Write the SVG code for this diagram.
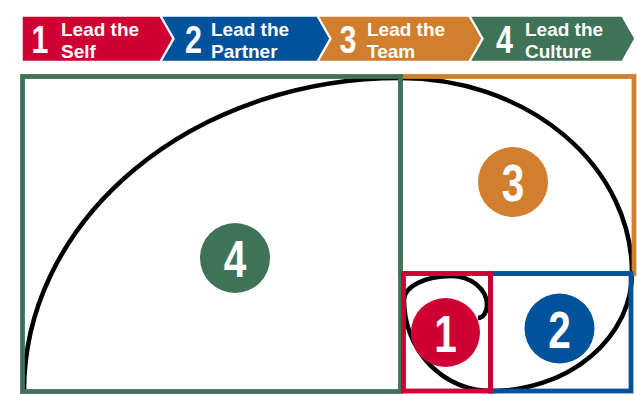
<svg xmlns="http://www.w3.org/2000/svg" width="637" height="394" viewBox="0 0 637 394">
<style>
.red{fill:#CE0033}.blue{fill:#00529B}.orange{fill:#D17F2E}.green{fill:#3F7358}
.chev{stroke:#fff;stroke-width:1.5}
.lbl{font-family:"Liberation Sans",Arial,sans-serif;font-weight:bold;font-size:19px;fill:#fff}
.bnum{font-family:"Liberation Sans",Arial,sans-serif;font-weight:bold;font-size:39px;fill:#fff;text-anchor:middle}
.cnum{font-family:"Liberation Sans",Arial,sans-serif;font-weight:bold;font-size:52px;fill:#fff;text-anchor:middle}
.frame{fill:none;stroke-width:4.8}
.spiral{fill:none;stroke:#000;stroke-width:4.5}
</style>
<g id="banner">
  <g id="step1">
    <polygon class="red chev" points="22,16 160,16 173,38.7 160,61.5 22,61.5"/>
    <text class="bnum" transform="translate(40,53) scale(0.78,1)">1</text>
    <text class="lbl" x="61" y="36">Lead the</text>
    <text class="lbl" x="61" y="58">Self</text>
  </g>
  <g id="step2">
    <polygon class="blue chev" points="161,16 317,16 330,38.7 317,61.5 161,61.5 174,38.7"/>
    <text class="bnum" transform="translate(193.5,53) scale(0.78,1)">2</text>
    <text class="lbl" x="211" y="36">Lead the</text>
    <text class="lbl" x="211" y="58">Partner</text>
  </g>
  <g id="step3">
    <polygon class="orange chev" points="318,16 469,16 482,38.7 469,61.5 318,61.5 331,38.7"/>
    <text class="bnum" transform="translate(348,53) scale(0.78,1)">3</text>
    <text class="lbl" x="367" y="36">Lead the</text>
    <text class="lbl" x="367" y="58">Team</text>
  </g>
  <g id="step4">
    <polygon class="green chev" points="470,16 622,16 635,38.7 622,61.5 470,61.5 483,38.7"/>
    <text class="bnum" transform="translate(504.5,53) scale(0.78,1)">4</text>
    <text class="lbl" x="525" y="36">Lead the</text>
    <text class="lbl" x="525" y="58">Culture</text>
  </g>
</g>
<g id="connectors">
  <path class="spiral" d="M 24 391 A 376 313 0 0 1 400 78 A 232 195 0 0 1 632 273 A 141 118 0 0 1 491 391 A 87 91 0 0 1 404 300 A 47 24 0 0 1 451 276 A 36 29 0 0 1 487 305 A 9 13 0 0 1 478 318"/>
</g>
<g id="node3">
  <rect class="frame" x="400.5" y="76.5" width="233.5" height="197" stroke="#D17F2E"/>
  <circle class="orange" cx="513" cy="182" r="35"/>
  <text class="cnum" transform="translate(513,201) scale(0.78,1)">3</text>
</g>
<g id="node4">
  <rect class="frame" x="22.5" y="76.5" width="378" height="315" stroke="#3F7358"/>
  <circle class="green" cx="235" cy="258" r="35"/>
  <text class="cnum" transform="translate(235,277) scale(0.78,1)">4</text>
</g>
<g id="node2">
  <rect class="frame" x="490.5" y="273.5" width="140.5" height="117.5" stroke="#00529B"/>
  <circle class="blue" cx="559.5" cy="328.5" r="35"/>
  <text class="cnum" transform="translate(559.5,347.5) scale(0.78,1)">2</text>
</g>
<g id="node1">
  <rect class="frame" x="403.5" y="273.5" width="87" height="117.5" stroke="#CE0033" stroke-width="4"/>
  <circle class="red" cx="445.5" cy="332.5" r="34.5"/>
  <text class="cnum" transform="translate(445.5,351.5) scale(0.78,1)">1</text>
</g>
</svg>
